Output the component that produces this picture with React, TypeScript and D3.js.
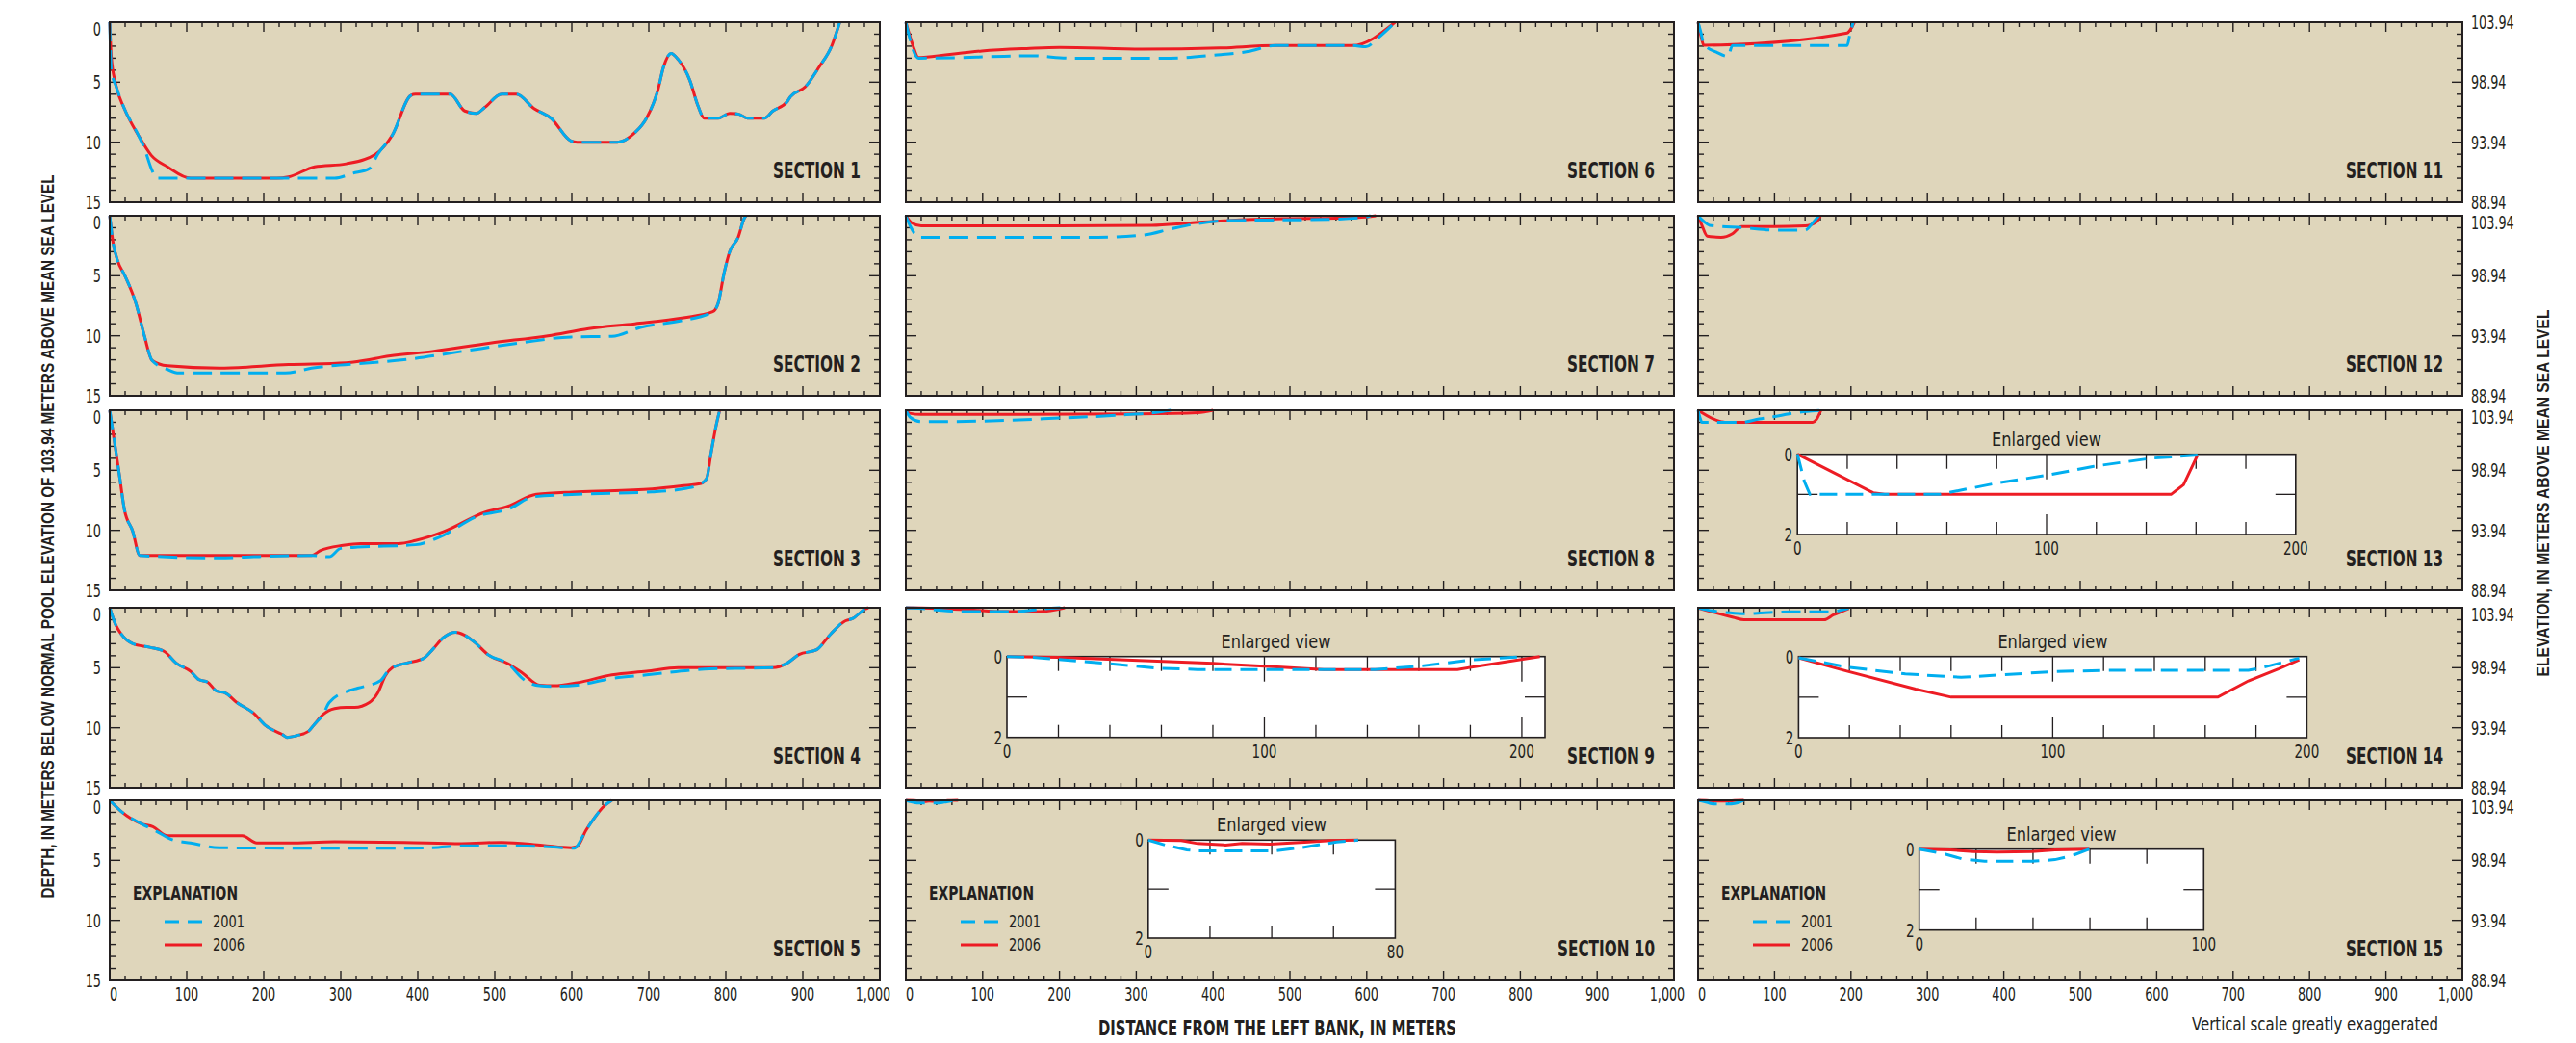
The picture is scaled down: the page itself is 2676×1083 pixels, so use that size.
import React from "react";
import * as d3 from "d3";

type Pt = [number, number];

// distance from left bank (m), depth below normal pool (m)
const sec1_2001: Pt[] = [[0,0],[2,4],[8,5.3],[19,7.2],[37,9.4],[45,10.5],[54,12.2],[61,13],[292,13],[315,12.6],[337,12.2],[348,11],[367,9.4],[391,6.1],[397,6],[442,6],[461,7.4],[476,7.6],[487,7.1],[509,6],[528,6],[551,7.2],[573,8],[599,9.9],[607,10],[659,10],[682,9.2],[697,8],[712,5.6],[719,3.75],[729,2.6],[738,3.1],[753,4.8],[764,7],[772,8],[790,8],[805,7.6],[816,7.65],[828,8],[850,8],[861,7.4],[880,6.6],[884,6.2],[903,5.4],[921,3.75],[938,1.9],[948,0]];
const sec1_2006: Pt[] = [[0,0],[2,2.9],[7.5,5.1],[19,7.2],[37,9.4],[54,11.1],[75,12.05],[105,13],[217,13],[232,12.9],[266,12.05],[307,11.8],[345,11],[367,9.4],[391,6.1],[397,6],[442,6],[461,7.4],[476,7.6],[487,7.1],[509,6],[528,6],[551,7.2],[573,8],[599,9.9],[607,10],[659,10],[682,9.2],[697,8],[712,5.6],[719,3.75],[729,2.6],[738,3.1],[753,4.8],[764,7],[772,8],[790,8],[805,7.6],[816,7.65],[828,8],[850,8],[861,7.4],[880,6.6],[884,6.2],[903,5.4],[921,3.75],[938,1.9],[948,0]];

const sec2_2001: Pt[] = [[0,0],[4,2.1],[10,3.7],[19,4.9],[34,7.3],[45,10],[55,12.05],[75,12.8],[90,13.1],[228,13.1],[262,12.7],[337,12.25],[382,12],[457,11.3],[532,10.6],[599,10.1],[652,10.05],[689,9.3],[742,8.75],[783,8],[790,7.3],[798,4.7],[805,3],[816,1.8],[824,0.2],[826,0]];
const sec2_2006: Pt[] = [[0,0],[4,2.1],[10,3.7],[19,4.9],[34,7.3],[45,10],[55,12.05],[75,12.5],[142,12.7],[232,12.4],[307,12.25],[337,12],[352,11.8],[419,11.3],[494,10.6],[569,10],[622,9.4],[682,9],[745,8.5],[783,8],[790,7.3],[798,4.7],[805,3],[816,1.8],[824,0.2],[826,0]];

const sec3_2001: Pt[] = [[0,0],[7.5,3.2],[13,5.6],[19,8.25],[30,10.1],[39,12.1],[142,12.3],[187,12.2],[262,12.1],[285,12.2],[300,11.5],[322,11.4],[397,11.2],[427,10.6],[479,8.8],[517,8.25],[551,7.2],[607,7],[704,6.8],[749,6.5],[768,6.1],[775,5.7],[781,3.5],[787,1.4],[792,0]];
const sec3_2006: Pt[] = [[0,0],[7.5,3.2],[13,5.6],[19,8.25],[30,10.1],[39,12.1],[262,12.1],[273,11.7],[303,11.25],[326,11.1],[375,11.1],[397,10.85],[434,10.1],[487,8.5],[517,8],[554,7],[607,6.8],[704,6.55],[742,6.3],[768,6.1],[775,5.7],[781,3.5],[787,1.4],[792,0]];

const sec4_2001: Pt[] = [[0,0],[7.5,1.4],[15,2.2],[30,3],[52,3.3],[71,3.65],[86,4.6],[105,5.3],[116,6],[127,6.2],[139,6.95],[150,7.1],[165,7.9],[187,8.8],[202,9.8],[225,10.6],[230,10.8],[243,10.65],[258,10.3],[266,9.7],[277,8.9],[285,7.9],[311,6.9],[322,6.7],[352,6.05],[361,5.3],[367,5],[386,4.6],[408,4.2],[419,3.5],[434,2.45],[449,2.05],[461,2.3],[476,3],[491,3.9],[517,4.65],[539,6.05],[558,6.5],[577,6.55],[607,6.45],[652,5.9],[697,5.6],[757,5.2],[779,5.1],[861,5],[880,4.6],[895,3.9],[918,3.5],[936,2.2],[955,1.1],[965,0.9],[981,0.1],[985,0]];
const sec4_2006: Pt[] = [[0,0],[7.5,1.4],[15,2.2],[30,3],[52,3.3],[71,3.65],[86,4.6],[105,5.3],[116,6],[127,6.2],[139,6.95],[150,7.1],[165,7.9],[187,8.8],[202,9.8],[225,10.6],[230,10.8],[243,10.65],[258,10.3],[266,9.7],[277,8.9],[292,8.4],[307,8.3],[318,8.3],[337,7.9],[348,7.1],[358,5.65],[367,5],[386,4.6],[408,4.2],[419,3.5],[434,2.45],[449,2.05],[461,2.3],[476,3],[491,3.9],[517,4.65],[536,5.45],[558,6.45],[577,6.5],[607,6.25],[652,5.6],[697,5.3],[738,5],[861,5],[880,4.6],[895,3.9],[918,3.5],[936,2.2],[955,1.1],[965,0.9],[981,0.1],[985,0]];

const sec5_2001: Pt[] = [[0,0],[15,0.93],[41,1.95],[60,2.55],[82,3.3],[105,3.55],[142,3.95],[345,4],[419,3.95],[457,3.8],[532,3.8],[577,3.9],[603,4],[618,2.55],[629,1.5],[640,0.6],[652,0]];
const sec5_2006: Pt[] = [[0,0],[15,0.93],[41,1.95],[56,2.2],[75,2.95],[172,2.95],[191,3.55],[232,3.55],[292,3.45],[382,3.5],[457,3.6],[509,3.5],[562,3.75],[599,3.95],[607,3.85],[618,2.55],[629,1.5],[640,0.6],[652,0]];

const sec6_2001: Pt[] = [[0,0],[16.5,3],[128,2.85],[164,2.8],[214,3],[344,3],[401,2.75],[445,2.45],[481,1.95],[581,1.95],[599,2.05],[614,1.35],[637,0]];
const sec6_2006: Pt[] = [[0,0],[9,1.9],[16.5,2.95],[27,2.9],[99,2.4],[157,2.2],[200,2.1],[308,2.25],[409,2.15],[481,1.95],[581,1.95],[637,0]];

const sec7_2001: Pt[] = [[0,0],[6,0.9],[18,1.8],[100,1.8],[250,1.8],[310,1.6],[345,1.1],[380,0.65],[420,0.4],[550,0.3],[595,0.15],[605,0]];
const sec7_2006: Pt[] = [[0,0],[8,0.6],[20,0.85],[100,0.85],[200,0.85],[320,0.8],[370,0.6],[420,0.4],[490,0.25],[560,0.2],[600,0.1],[612,0]];

const sec8_2001: Pt[] = [[0,0],[6,0.6],[20,0.95],[100,0.9],[200,0.65],[280,0.4],[330,0.15],[345,0]];
const sec8_2006: Pt[] = [[0,0],[5,0.25],[20,0.35],[150,0.35],[300,0.3],[380,0.2],[400,0]];

const sec9_2001: Pt[] = [[0,0],[10,0.02],[40,0.18],[59,0.29],[74,0.32],[143,0.32],[160,0.24],[181,0.08],[201,0]];
const sec9_2006: Pt[] = [[0,0],[20,0.02],[80,0.17],[100,0.24],[123,0.32],[175,0.32],[207,0]];

const sec10_2001: Pt[] = [[0,0],[5.4,0.1],[12.5,0.2],[16,0.22],[41,0.22],[50,0.15],[61,0.04],[68,0]];
const sec10_2006: Pt[] = [[0,0],[10.7,0.01],[16,0.07],[25,0.1],[30.4,0.07],[39.4,0.085],[52,0.04],[59,0.01],[68,0]];

const sec11_2001: Pt[] = [[0,0],[3.8,0.9],[7.5,1.85],[24,2.5],[39,2.85],[45,1.95],[195,1.95],[199,0.9],[203,0]];
const sec11_2006: Pt[] = [[0,0],[3.8,1.17],[7.5,1.92],[30,1.9],[195,0.9],[204.5,0]];

const sec12_2001: Pt[] = [[0,0],[8,0.5],[15,0.8],[60,1],[100,1.2],[140,1.2],[150,0.6],[158,0]];
const sec12_2006: Pt[] = [[0,0],[5,0.8],[12,1.7],[30,1.8],[45,1.5],[57,0.9],[100,0.9],[140,0.85],[155,0.5],[160,0]];

const sec13_2001: Pt[] = [[0,0],[2.8,0.68],[5,1],[57,1],[80,0.72],[100.5,0.52],[119,0.3],[142,0.1],[160.6,0.02]];
const sec13_2006: Pt[] = [[0,0],[30.4,0.96],[35,1],[150,1],[155,0.76],[160.6,0.02]];

const sec14_2001: Pt[] = [[0,0.03],[19,0.26],[42,0.43],[64,0.51],[78,0.46],[100.5,0.37],[123,0.34],[177,0.34],[182,0.28],[197,0.04]];
const sec14_2006: Pt[] = [[0,0.03],[19,0.36],[46,0.8],[60,1],[165,1],[177,0.6],[189,0.3],[197,0.08]];

const sec15_2001: Pt[] = [[0,0],[9,0.12],[15,0.24],[23,0.3],[39.6,0.3],[47.7,0.26],[53.8,0.16],[59.8,0]];
const sec15_2006: Pt[] = [[0,0],[11,0.02],[19,0.06],[27.4,0.07],[39.6,0.06],[47.7,0.02],[59.8,0]];

const sectionNames = ["SECTION 1","SECTION 2","SECTION 3","SECTION 4","SECTION 5","SECTION 6","SECTION 7","SECTION 8","SECTION 9","SECTION 10","SECTION 11","SECTION 12","SECTION 13","SECTION 14","SECTION 15"];
const xTickLabels = [0,100,200,300,400,500,600,700,800,900,1000];
const depthTicks = [0,5,10,15];
const elevLabels = ["103.94","98.94","93.94","88.94"];
const legendYears = ["2001","2006"];

const surveys: [Pt[], Pt[]][] = [
  [sec1_2001, sec1_2006],[sec2_2001, sec2_2006],[sec3_2001, sec3_2006],[sec4_2001, sec4_2006],[sec5_2001, sec5_2006],
  [sec6_2001, sec6_2006],[sec7_2001, sec7_2006],[sec8_2001, sec8_2006],[sec9_2001, sec9_2006],[sec10_2001, sec10_2006],
  [sec11_2001, sec11_2006],[sec12_2001, sec12_2006],[sec13_2001, sec13_2006],[sec14_2001, sec14_2006],[sec15_2001, sec15_2006],
];

// layout
const COL_X = [114, 941, 1764];
const COL_W = [800, 798, 794];
const ROW_Y = [23, 224, 426, 631, 831];
const PANEL_H = 187;

const INK = "#231F20";
const TAN = "#DFD6BB";
const RED = "#ED1C24";
const BLUE = "#00AEEF";
const NARROW = "'Liberation Sans Narrow', 'DejaVu Sans Condensed', 'Arial Narrow', sans-serif";

// the original lettering is a condensed face; squeeze each string to its measured width
const numWidth = (s: string, size: number) =>
  s.split("").reduce((a, c) => a + (/[0-9]/.test(c) ? 0.43 : 0.2) * size, 0);

function T(props: any) {
  const { x, y, len, size = 19, bold, anchor, baseline, children, transform } = props;
  return (
    <text x={x} y={y} transform={transform} textAnchor={anchor} dominantBaseline={baseline}
      fontSize={size} fontWeight={bold ? "bold" : "normal"} fontFamily={NARROW} fill={INK}
      textLength={len} lengthAdjust={len ? "spacingAndGlyphs" : undefined}>
      {children}
    </text>
  );
}

// enlarged-view boxes, keyed by section index
const insets: Record<number, { left: number; top: number; w: number; h: number; xMax: number; labels: number[] }> = {
  8: { left: 105, top: 50.7, w: 559, h: 84, xMax: 209, labels: [0, 100, 200] },
  9: { left: 251.8, top: 41.3, w: 256.6, h: 101.7, xMax: 80, labels: [0, 80] },
  12: { left: 103.2, top: 45.7, w: 517.6, h: 83.3, xMax: 200, labels: [0, 100, 200] },
  13: { left: 104.4, top: 50.7, w: 528, h: 84.3, xMax: 200, labels: [0, 100, 200] },
  14: { left: 229.7, top: 50.7, w: 295.6, h: 84, xMax: 100, labels: [0, 100] },
};
const legendSections = [4, 9, 14];

function Inset({ cfg, data }: { cfg: any; data: [Pt[], Pt[]] }) {
  const x = d3.scaleLinear().domain([0, cfg.xMax]).range([0, cfg.w]);
  const y = d3.scaleLinear().domain([0, 2]).range([0, cfg.h]);
  const line = d3.line<Pt>().x(d => x(d[0])).y(d => y(d[1]));
  const ticks = d3.range(20, cfg.xMax - 0.5, 20);
  return (
    <g transform={`translate(${cfg.left},${cfg.top})`}>
      <rect x={0} y={0} width={cfg.w} height={cfg.h} fill="#fff" stroke={INK} strokeWidth={1.6} />
      {ticks.map(v => (
        <g key={v} stroke={INK} strokeWidth={1.3}>
          <line x1={x(v)} x2={x(v)} y1={0} y2={v % 100 === 0 ? 26 : 15} />
          <line x1={x(v)} x2={x(v)} y1={cfg.h} y2={cfg.h - (v % 100 === 0 ? 21 : 13)} />
        </g>
      ))}
      <line x1={0} x2={21} y1={y(1)} y2={y(1)} stroke={INK} strokeWidth={1.3} />
      <line x1={cfg.w - 21} x2={cfg.w} y1={y(1)} y2={y(1)} stroke={INK} strokeWidth={1.3} />
      <path d={line(data[1]) || ""} fill="none" stroke={RED} strokeWidth={3} />
      <path d={line(data[0]) || ""} fill="none" stroke={BLUE} strokeWidth={3} strokeDasharray="18 9" />
      <T x={-5} y={0} anchor="end" baseline="central" size={20} len={numWidth("0", 20)}>0</T>
      <T x={-5} y={cfg.h} anchor="end" baseline="central" size={20} len={numWidth("2", 20)}>2</T>
      {cfg.labels.map((v: number) => (
        <T key={v} x={x(v)} y={cfg.h + 21} anchor="middle" size={20} len={numWidth(String(v), 20)}>{v}</T>
      ))}
      <T x={cfg.w / 2} y={-9} anchor="middle" size={20} len={114}>Enlarged view</T>
    </g>
  );
}

function Panel({ i }: { i: number }) {
  const col = Math.floor(i / 5);
  const row = i % 5;
  const w = COL_W[col];
  const x = d3.scaleLinear().domain([0, 1000]).range([0, w]);
  const y = d3.scaleLinear().domain([0, 15]).range([0, PANEL_H]);
  const line = d3.line<Pt>().x(d => x(d[0])).y(d => y(d[1])).curve(d3.curveMonotoneX);
  const xt = x.ticks(50).filter(v => v > 0 && v < 1000);
  const yt = y.ticks(15).filter(v => v > 0 && v < 15);
  const data = surveys[i];
  const name = sectionNames[i];
  return (
    <g transform={`translate(${COL_X[col]},${ROW_Y[row]})`}>
      <rect x={0} y={0} width={w} height={PANEL_H} fill={TAN} />
      <g stroke={INK} strokeWidth={1.4}>
        {xt.map(v => (
          <g key={v}>
            <line x1={x(v)} x2={x(v)} y1={0} y2={v % 100 === 0 ? 10 : 5} />
            <line x1={x(v)} x2={x(v)} y1={PANEL_H} y2={PANEL_H - (v % 100 === 0 ? 10 : 5)} />
          </g>
        ))}
        {yt.map(v => (
          <g key={v}>
            <line x1={0} x2={v % 5 === 0 ? 11 : 6} y1={y(v)} y2={y(v)} />
            <line x1={w} x2={w - (v % 5 === 0 ? 11 : 6)} y1={y(v)} y2={y(v)} />
          </g>
        ))}
      </g>
      <path d={line(data[1]) || ""} fill="none" stroke={RED} strokeWidth={3} />
      <path d={line(data[0]) || ""} fill="none" stroke={BLUE} strokeWidth={3} strokeDasharray="20 9" />
      <rect x={0} y={0} width={w} height={PANEL_H} fill="none" stroke={INK} strokeWidth={2} />
      {insets[i] && <Inset cfg={insets[i]} data={data} />}
      <T x={w - 20} y={PANEL_H - 25} anchor="end" size={23} bold len={name.length > 9 ? 101 : 91}>{name}</T>
      {col === 0 && depthTicks.map(v => (
        <T key={v} x={-9} y={y(v) + (v === 0 ? 7 : 0)} anchor="end" baseline="central" len={numWidth(String(v), 19)}>{v}</T>
      ))}
      {col === 2 && depthTicks.map((v, k) => (
        <T key={v} x={w + 9} y={y(v) + (v === 0 && row > 0 ? 7 : 0)} baseline="central" len={numWidth(elevLabels[k], 19)}>{elevLabels[k]}</T>
      ))}
      {row === 4 && xTickLabels.map(v => {
        const s = d3.format(",")(v);
        return (
          <T key={v} x={x(v) + (v === 0 ? 4 : v === 1000 ? -7 : 0)} y={PANEL_H + 21} anchor="middle" len={numWidth(s, 19)}>{s}</T>
        );
      })}
      {legendSections.includes(i) && (
        <g transform="translate(24,0)">
          <T x={0} y={103} size={20} bold len={109}>EXPLANATION</T>
          <line x1={33} x2={73} y1={126} y2={126} stroke={BLUE} strokeWidth={3} strokeDasharray="15 9" />
          <line x1={33} x2={72} y1={150} y2={150} stroke={RED} strokeWidth={3} />
          <T x={83} y={132} size={18} len={33}>{legendYears[0]}</T>
          <T x={83} y={156} size={18} len={33}>{legendYears[1]}</T>
        </g>
      )}
    </g>
  );
}

export default function App() {
  return (
    <svg width={2676} height={1083} style={{ position: "absolute", left: 0, top: 0, background: "#fff", display: "block" }}>
      {surveys.map((_, i) => <Panel key={i} i={i} />)}
      <text transform="translate(56,557) rotate(-90)" textAnchor="middle" fontSize={19} fontWeight="bold" fontFamily="'Liberation Sans', Arial, sans-serif" fill={INK} textLength={751} lengthAdjust="spacingAndGlyphs">
        DEPTH, IN METERS BELOW NORMAL POOL ELEVATION OF 103.94 METERS ABOVE MEAN SEA LEVEL
      </text>
      <text transform="translate(2648,512) rotate(-90)" textAnchor="middle" fontSize={19} fontWeight="bold" fontFamily="'Liberation Sans', Arial, sans-serif" fill={INK} textLength={381} lengthAdjust="spacingAndGlyphs">
        ELEVATION, IN METERS ABOVE MEAN SEA LEVEL
      </text>
      <T x={1327} y={1075} anchor="middle" size={22} bold len={372}>DISTANCE FROM THE LEFT BANK, IN METERS</T>
      <T x={2533} y={1070} anchor="end" size={20} len={256}>Vertical scale greatly exaggerated</T>
    </svg>
  );
}
